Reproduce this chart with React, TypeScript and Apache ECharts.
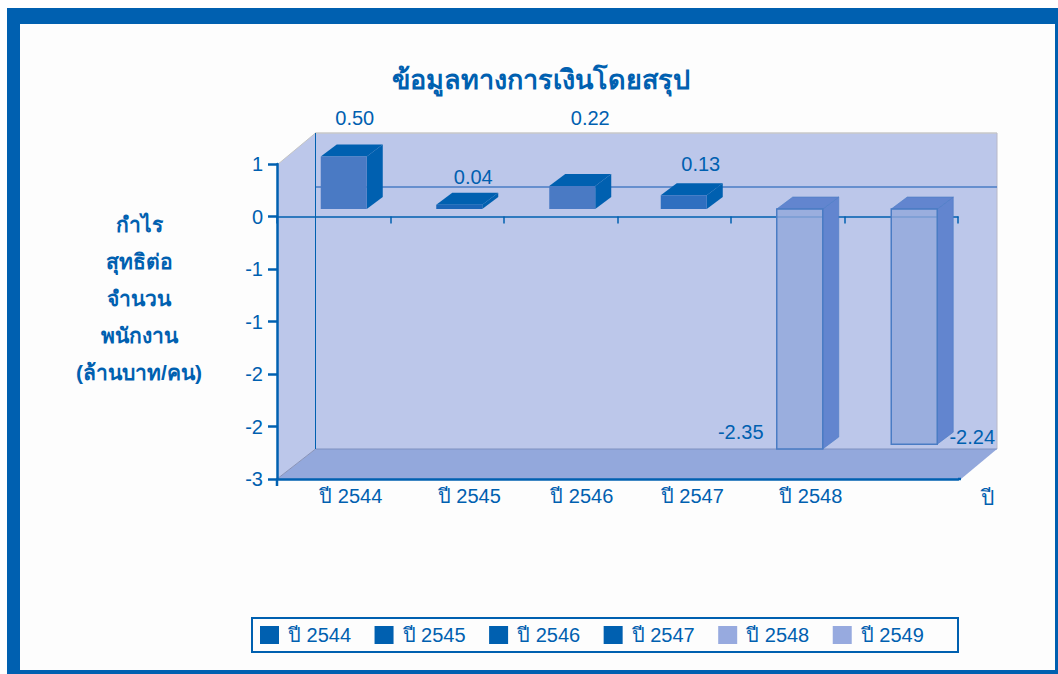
import React, { useEffect, useRef } from "react";
import * as echarts from "echarts";

const categories = ["ปี 2544", "ปี 2545", "ปี 2546", "ปี 2547", "ปี 2548", "ปี 2549"];
const xTickLabels = ["ปี 2544", "ปี 2545", "ปี 2546", "ปี 2547", "ปี 2548", ""];
const values = [0.5, 0.04, 0.22, 0.13, -2.35, -2.24];
const yTickLabels = ["-3", "-2", "-2", "-1", "-1", "0", "1"];
const title = "ข้อมูลทางการเงินโดยสรุป";
const yTitleLines = ["กำไร", "สุทธิต่อ", "จำนวน", "พนักงาน", "(ล้านบาท/คน)"];

const BLUE = "#0060b0";
const FONT = '"Liberation Sans", Arial, sans-serif';
const frontColors = ["#4a7ac4", "#1a65b8", "#4a7ac4", "#2f6fc0", "rgba(147,168,220,0.82)", "rgba(147,168,220,0.82)"];
const faceColors = [BLUE, BLUE, BLUE, BLUE, "#6285cf", "#6285cf"];
const legendColors = [BLUE, BLUE, BLUE, BLUE, "#97aadf", "#97aadf"];
const labelShift = [34, 44, 42, 36, 46, 0];
const barShift = [10, 12, 11.5, 9.5, 12, 13];
const labelOffsets = [
  [11, -39],
  [14, -28],
  [18, -68],
  [17, -31],
  [-59, 223],
  [58, 228],
];

const G = { left: 277, top: 164, right: 958, bottom: 479 };
const BACK = { left: 315.5, top: 133, right: 997, bottom: 449 };

const renderBar = (params: any, api: any) => {
  const idx = api.value(0);
  const v = api.value(1);
  const p = api.coord([idx, v]);
  const base = api.coord([idx, 0]);
  const w = 46;
  const dx = 16;
  const dy = 12;
  const x0 = p[0] + barShift[idx] - w / 2;
  const x1 = x0 + w;
  const yBase = base[1] - 7.5;
  const yTop = Math.min(yBase, p[1] - 7.5);
  const yBot = Math.min(Math.max(yBase, p[1] - 7.5), BACK.bottom);
  const neg = v < 0;
  const stroke = neg ? { stroke: "#4a7cc4", lineWidth: 1.5 } : {};
  const faceStroke = neg ? { stroke: "#4a7cc4", lineWidth: 0.6 } : {};
  const off = labelOffsets[idx];
  const lx = (x0 + x1) / 2 + off[0];
  const ly = (neg ? yBase : yTop) + off[1];
  return {
    type: "group",
    children: [
      {
        type: "polygon",
        shape: { points: [[x1, yTop], [x1 + dx, yTop - dy], [x1 + dx, yBot - dy], [x1, yBot]] },
        style: { fill: faceColors[idx], ...faceStroke },
      },
      {
        type: "polygon",
        shape: { points: [[x0, yTop], [x1, yTop], [x1 + dx, yTop - dy], [x0 + dx, yTop - dy]] },
        style: { fill: faceColors[idx], ...faceStroke },
      },
      {
        type: "rect",
        shape: { x: x0, y: yTop, width: w, height: yBot - yTop },
        style: { fill: frontColors[idx], ...stroke },
      },
      {
        type: "text",
        style: {
          text: values[idx].toFixed(2),
          x: lx,
          y: ly,
          fill: BLUE,
          font: `20px ${FONT}`,
          align: "center",
          verticalAlign: "middle",
        },
      },
    ],
  };
};

export default function App() {
  const ref = useRef<HTMLDivElement>(null);
  useEffect(() => {
    const chart = echarts.init(ref.current!, null, { renderer: "svg" });
    const rect = (x: number, y: number, width: number, height: number, fill: string, z = -20) => ({
      type: "rect",
      z,
      silent: true,
      shape: { x, y, width, height },
      style: { fill },
    });
    const line = (x1: number, y1: number, x2: number, y2: number, stroke: string, lineWidth: number, z = -5) => ({
      type: "line",
      z,
      silent: true,
      shape: { x1, y1, x2, y2 },
      style: { stroke, lineWidth },
    });
    const poly = (points: number[][], fill: string, z = -10) => ({
      type: "polygon",
      z,
      silent: true,
      shape: { points },
      style: { fill },
    });
    chart.setOption({
      animation: false,
      backgroundColor: "#ffffff",
      title: {
        text: title,
        left: 536,
        top: 61,
        textAlign: "center",
        textStyle: { color: BLUE, fontFamily: FONT, fontSize: 27, fontWeight: "bold" },
      },
      legend: {
        data: categories.map((name, i) => ({ name, icon: "rect", itemStyle: { color: legendColors[i] } })),
        left: 260,
        top: 625,
        padding: 0,
        itemWidth: 19,
        itemHeight: 18,
        itemGap: 23.5,
        textStyle: { color: BLUE, fontFamily: FONT, fontSize: 20, padding: [8, 0, 0, 4] },
      },
      grid: { left: G.left, top: G.top, width: G.right - G.left, height: G.bottom - G.top },
      xAxis: [
        {
          type: "category",
          data: xTickLabels.map((value, i) => ({
            value,
            textStyle: { padding: [0, 0, 0, labelShift[i]] },
          })),
          position: "bottom",
          name: "ปี",
          nameLocation: "end",
          nameGap: 23,
          nameTextStyle: {
            color: BLUE,
            fontFamily: FONT,
            fontSize: 21,
            verticalAlign: "top",
            lineHeight: 36,
          },
          axisLine: { onZero: false, lineStyle: { color: BLUE, width: 2.5 } },
          axisTick: { show: false },
          axisLabel: { color: BLUE, fontFamily: FONT, fontSize: 20, margin: 7, interval: 0 },
        },
        {
          type: "category",
          data: xTickLabels,
          position: "top",
          axisLine: { onZero: true, lineStyle: { color: BLUE, width: 1.5 } },
          axisTick: { show: true, inside: true, length: 7, lineStyle: { color: BLUE, width: 1.5 } },
          axisLabel: { show: false },
        },
      ],
      yAxis: {
        type: "value",
        min: -2.5,
        max: 0.5,
        interval: 0.5,
        axisLine: { show: true, onZero: false, lineStyle: { color: BLUE, width: 2.5 } },
        axisTick: { show: true, length: 9, lineStyle: { color: BLUE, width: 2.5 } },
        splitLine: { show: false },
        axisLabel: {
          color: BLUE,
          fontFamily: FONT,
          fontSize: 20,
          margin: 14,
          formatter: (_: number, i: number) => yTickLabels[i],
        },
      },
      graphic: [
        rect(7, 8, 1051, 666, BLUE, -30),
        rect(20, 24, 1035, 646, "#fdfdfd", -29),
        poly([[BACK.left, BACK.top], [BACK.right, BACK.top], [BACK.right, BACK.bottom], [BACK.left, BACK.bottom]], "#bcc7ea"),
        poly([[G.left, 165], [BACK.left, BACK.top], [BACK.left, BACK.bottom], [G.left, G.bottom]], "#bcc7ea"),
        poly([[G.left, G.bottom], [BACK.left, BACK.bottom], [BACK.right, BACK.bottom], [961, G.bottom]], "#93a8dc", -9),
        line(G.left, 165, BACK.left, BACK.top, "#c4c4c4", 1),
        line(BACK.left, BACK.top, BACK.right, BACK.top, "#c8c8c8", 1.5),
        line(BACK.right, BACK.top, BACK.right, BACK.bottom, "#b8b8c8", 1),
        line(BACK.left, BACK.bottom, BACK.right, BACK.bottom, "#7f90c0", 1),
        line(G.left, G.bottom, BACK.left, BACK.bottom, "#8a94b8", 1),
        line(BACK.left, 187, BACK.right, 187, "#4a7cc4", 1.5),
        line(BACK.left, BACK.top, BACK.left, BACK.bottom, BLUE, 1),
        line(G.right, G.bottom, 961, G.bottom, BLUE, 2.5),
        line(G.left, G.bottom, G.left, 486, BLUE, 2.5, 10),
        {
          type: "rect",
          z: -5,
          silent: true,
          shape: { x: 252, y: 618, width: 706, height: 34 },
          style: { fill: "#fdfdfd", stroke: BLUE, lineWidth: 2 },
        },
        {
          type: "text",
          z: 10,
          silent: true,
          style: {
            text: yTitleLines.join("\n"),
            x: 139,
            y: 206,
            fill: BLUE,
            font: `bold 21px ${FONT}`,
            lineHeight: 37,
            align: "center",
            verticalAlign: "top",
          },
        },
      ],
      series: categories.map((name, i) => ({
        type: "custom",
        name,
        xAxisIndex: 0,
        yAxisIndex: 0,
        z: 5,
        itemStyle: { color: legendColors[i] },
        encode: { x: 0, y: 1 },
        data: [[i, values[i]]],
        renderItem: renderBar,
      })),
    });
    return () => chart.dispose();
  }, []);
  return <div ref={ref} style={{ position: "fixed", left: 0, top: 0, width: 1058, height: 674 }} />;
}
